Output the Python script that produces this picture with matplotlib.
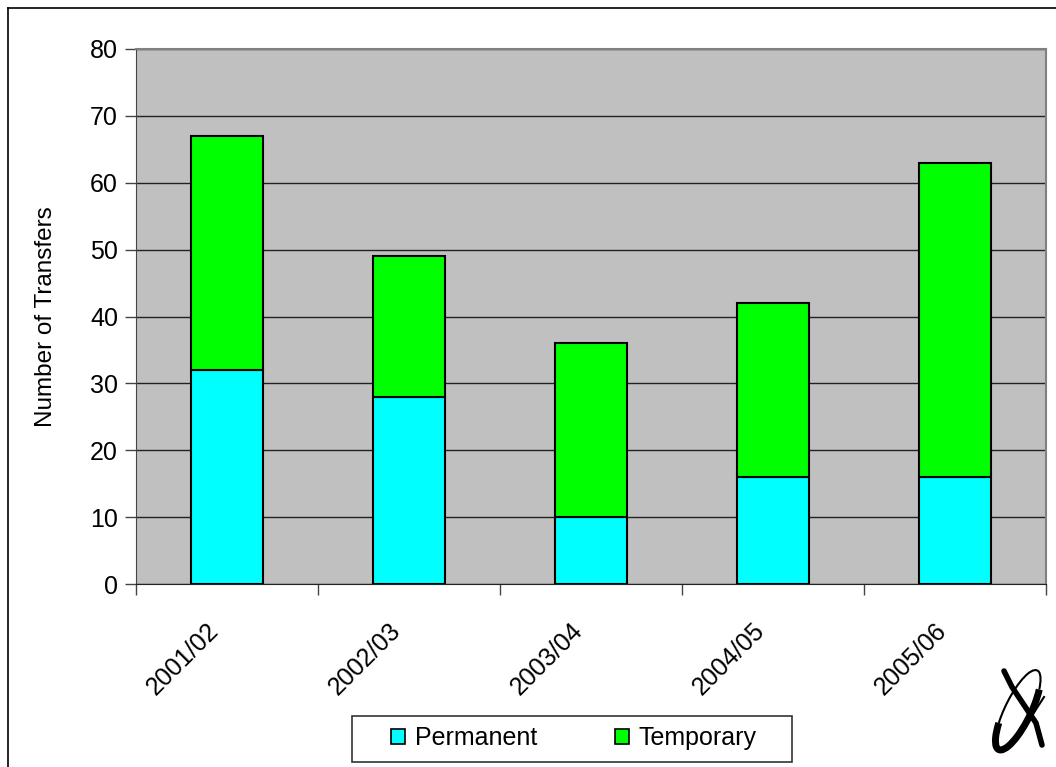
import numpy as np
import matplotlib.pyplot as plt
from matplotlib.patches import Patch, Arc, Rectangle
from matplotlib.lines import Line2D
from matplotlib.transforms import ScaledTranslation

seasons = ['2001/02', '2002/03', '2003/04', '2004/05', '2005/06']
permanent = [32, 28, 10, 16, 16]
temporary = [35, 21, 26, 26, 47]

plt.rcParams['font.family'] = ['Liberation Sans', 'DejaVu Sans']

W, H = 1056, 767
fig = plt.figure(figsize=(W / 100, H / 100), dpi=100)
fig.patch.set_facecolor('white')

# outer chart frame (left and top edges visible)
fig.add_artist(Line2D([8 / W, 8 / W], [0, 1 - 8 / H], color='black', lw=1.2))
fig.add_artist(Line2D([8 / W, 1], [1 - 8 / H, 1 - 8 / H], color='black', lw=1.2))

ax = fig.add_axes([136 / W, 183 / H, 910 / W, 535 / H])
ax.set_facecolor('#C0C0C0')

x = np.arange(len(seasons))
ax.bar(x, permanent, width=0.4, color='#00FFFF', edgecolor='black', linewidth=1.5, zorder=3)
ax.bar(x, temporary, width=0.4, bottom=permanent, color='#00FF00', edgecolor='black',
       linewidth=1.5, zorder=3)

ax.set_xlim(-0.5, len(seasons) - 0.5)
ax.set_ylim(0, 80)
ax.set_yticks(range(0, 81, 10))
ax.yaxis.grid(True, color='#222222', lw=1, zorder=1)
ax.tick_params(axis='y', direction='out', length=8, width=1, color='#444444',
               labelsize=18, pad=5)

# category ticks sit on the boundaries, labels under the bar centres
ax.set_xticks(np.arange(-0.5, len(seasons), 1.0))
ax.set_xticklabels([])
ax.set_xticks(x, minor=True)
ax.set_xticklabels(seasons, minor=True, rotation=45, ha='right', va='center',
                   rotation_mode='anchor', fontsize=18)
ax.tick_params(axis='x', which='major', direction='out', length=8, width=1, color='#444444')
ax.tick_params(axis='x', which='minor', length=0, pad=31)
shift = ScaledTranslation(-12 / 100, 0, fig.dpi_scale_trans)
for lab in ax.get_xticklabels(minor=True):
    lab.set_transform(lab.get_transform() + shift)

for side in ['top', 'right']:
    ax.spines[side].set_color('#808080')
    ax.spines[side].set_linewidth(1.5)
ax.spines['left'].set_color('#444444')
ax.spines['bottom'].set_color('#222222')

ax.set_ylabel('Number of Transfers', fontsize=17.5, labelpad=24)

# legend box drawn separately so the horizontal padding can be wider
fig.add_artist(Rectangle((352 / W, 1 - 762 / H), 440 / W, 46 / H,
                         transform=fig.transFigure, facecolor='white',
                         edgecolor='#333333', lw=1.2))
handles = [Patch(facecolor='#00FFFF', edgecolor='black', lw=1.2),
           Patch(facecolor='#00FF00', edgecolor='black', lw=1.2)]
leg = fig.legend(handles, ['Permanent', 'Temporary'], loc='center',
                 bbox_to_anchor=(574 / W, 1 - 738 / H), ncol=2, fontsize=18,
                 handlelength=0.55, handleheight=0.55, handletextpad=0.4,
                 columnspacing=3.1, frameon=False, borderpad=0.3)

# small logo in the lower right corner
lax = fig.add_axes([988 / W, 0, 68 / W, 110 / H])
lax.set_xlim(0, 68)
lax.set_ylim(0, 110)
lax.set_aspect('equal')
lax.axis('off')
lax.add_patch(Arc((30, 57), 88, 26, angle=64, theta1=150, theta2=340, color='black', lw=5))
lax.add_patch(Arc((30, 57), 88, 26, angle=64, theta1=340, theta2=150, color='black', lw=1.5))
lax.plot([16, 24, 36, 48, 54], [96, 80, 62, 44, 22], color='black', lw=4,
         solid_capstyle='round')
lax.plot([38, 56], [42, 70], color='black', lw=1.5)

fig.savefig('out.png', dpi=100)
